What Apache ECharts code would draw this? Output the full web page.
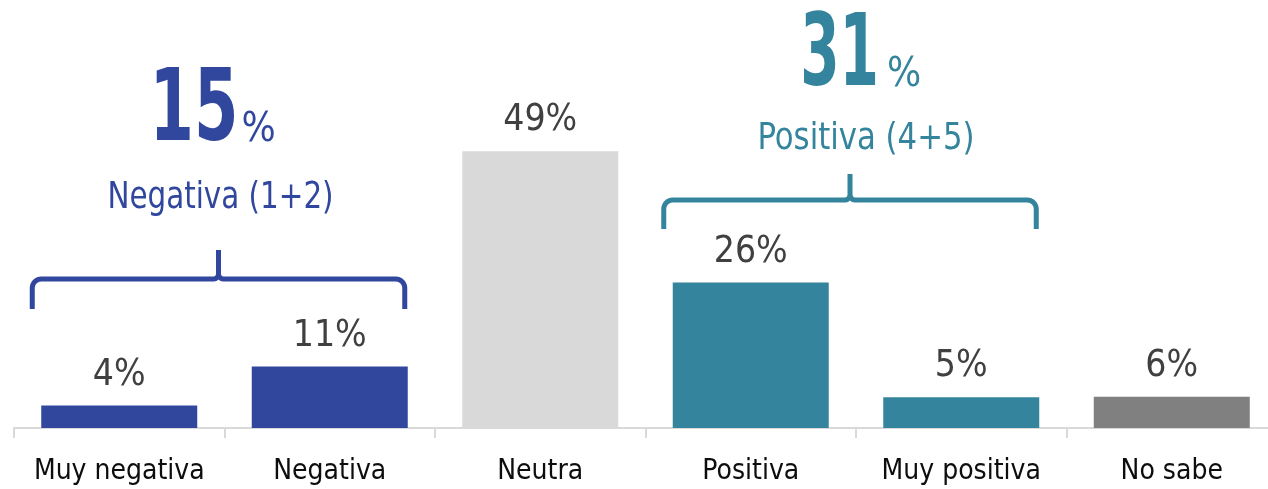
<!DOCTYPE html>
<html><head><meta charset="utf-8">
<script src="https://cdn.jsdelivr.net/npm/echarts@6/dist/echarts.min.js"></script>
<style>html,body{margin:0;padding:0;background:#fff;overflow:hidden;width:1268px;height:489px}#c{width:1277px;height:489px}</style>
</head><body><div id="c"></div>
<script>
// ---- data ----
const categories = ['Muy negativa', 'Negativa', 'Neutra', 'Positiva', 'Muy positiva', 'No sabe'];
const values = [4, 11, 49.4, 26, 5.5, 5.6];
const valueLabels = ['4%', '11%', '49%', '26%', '5%', '6%'];
const groupTotals = ['15', '31'];
const groupNames = ['Negativa (1+2)', 'Positiva (4+5)'];
const groupRanges = [[0, 1], [3, 4]];

// ---- styles ----
const FONT = '"Liberation Sans Narrow", "DejaVu Sans Condensed", Roboto, sans-serif';
const barColors = ['#31479E', '#31479E', '#D9D9D9', '#33849C', '#33849C', '#808080'];
const groupColors = ['#31479E', '#33849C'];
// per-group annotation layout (pixels)
const groupLayout = [
  { yH: 279, yEnd: 309, ySpike: 250, numDx: 20, numY: 164, numScale: 0.71, pctDx: 23, pctY: 151, nameDx: 2, nameY: 217, nameScale: 0.86 },
  { yH: 200, yEnd: 229, ySpike: 174, numDx: 29, numY: 109, numScale: 0.63, pctDx: 37, pctY: 96, nameDx: 16, nameY: 158, nameScale: 0.9 }
];

const chart = echarts.init(document.getElementById('c'), null, { renderer: 'canvas' });
chart.setOption({
  animation: false,
  grid: { left: 14, right: 0, top: 92, height: 336 },
  xAxis: {
    type: 'category',
    data: categories,
    axisLine: { lineStyle: { color: '#D9D9D9', width: 2 } },
    axisTick: { show: true, length: 10, lineStyle: { color: '#D9D9D9', width: 2 } },
    axisLabel: { interval: 0, color: '#0D0D0D', fontSize: 28, fontFamily: FONT, margin: 30 }
  },
  yAxis: { type: 'value', min: 0, max: 60, show: false, splitLine: { show: false } },
  series: [{
    type: 'bar',
    barWidth: 156,
    data: values.map((v, i) => ({ value: v, itemStyle: { color: barColors[i] } })),
    label: {
      show: true, position: 'top', distance: 12,
      formatter: p => valueLabels[p.dataIndex],
      color: '#404040', fontSize: 37, fontFamily: FONT
    }
  }]
});

function arcPts(cx, cy, r, t0, t1, n) {
  const pts = [];
  for (let k = 0; k <= n; k++) {
    const t = t0 + (t1 - t0) * k / n;
    pts.push([cx + r * Math.cos(t), cy + r * Math.sin(t)]);
  }
  return pts;
}

const graphics = [];
groupRanges.forEach((rg, g) => {
  const L = groupLayout[g];
  const ca = chart.convertToPixel({ xAxisIndex: 0 }, rg[0]);
  const cb = chart.convertToPixel({ xAxisIndex: 0 }, rg[1]);
  const xL = ca - 87, xR = cb + 75, xm = (xL + xR) / 2;
  const r = 9, r2 = 5;
  const left = [[xL, L.yEnd]]
    .concat(arcPts(xL + r, L.yH + r, r, Math.PI, 1.5 * Math.PI, 8))
    .concat(arcPts(xm - r2, L.yH - r2, r2, 0.5 * Math.PI, 0, 6))
    .concat([[xm, L.ySpike]]);
  const right = arcPts(xm + r2, L.yH - r2, r2, Math.PI, 0.5 * Math.PI, 6)
    .concat(arcPts(xR - r, L.yH + r, r, 1.5 * Math.PI, 2 * Math.PI, 8))
    .concat([[xR, L.yEnd]]);
  [left, right].forEach(pts => graphics.push({
    type: 'polyline', silent: true,
    shape: { points: pts },
    style: { stroke: groupColors[g], lineWidth: 5, fill: null, lineJoin: 'round', lineCap: 'butt' }
  }));
  graphics.push({
    type: 'text', silent: true,
    x: xm + L.numDx, y: L.numY, scaleX: L.numScale,
    style: {
      text: groupTotals[g], x: 0, y: 0, align: 'right', verticalAlign: 'bottom',
      fontSize: 100, fontWeight: 'bold', fontFamily: FONT, fill: groupColors[g]
    }
  });
  graphics.push({
    type: 'text', silent: true,
    x: xm + L.pctDx, y: L.pctY,
    style: {
      text: '%', x: 0, y: 0, align: 'left', verticalAlign: 'bottom',
      fontSize: 40, fontFamily: FONT, fill: groupColors[g]
    }
  });
  graphics.push({
    type: 'text', silent: true,
    x: xm + L.nameDx, y: L.nameY, scaleX: L.nameScale,
    style: {
      text: groupNames[g], x: 0, y: 0,
      align: 'center', verticalAlign: 'bottom',
      fontSize: 38, fontFamily: FONT, fill: groupColors[g]
    }
  });
});
chart.setOption({ graphic: graphics });
</script>
</body></html>
